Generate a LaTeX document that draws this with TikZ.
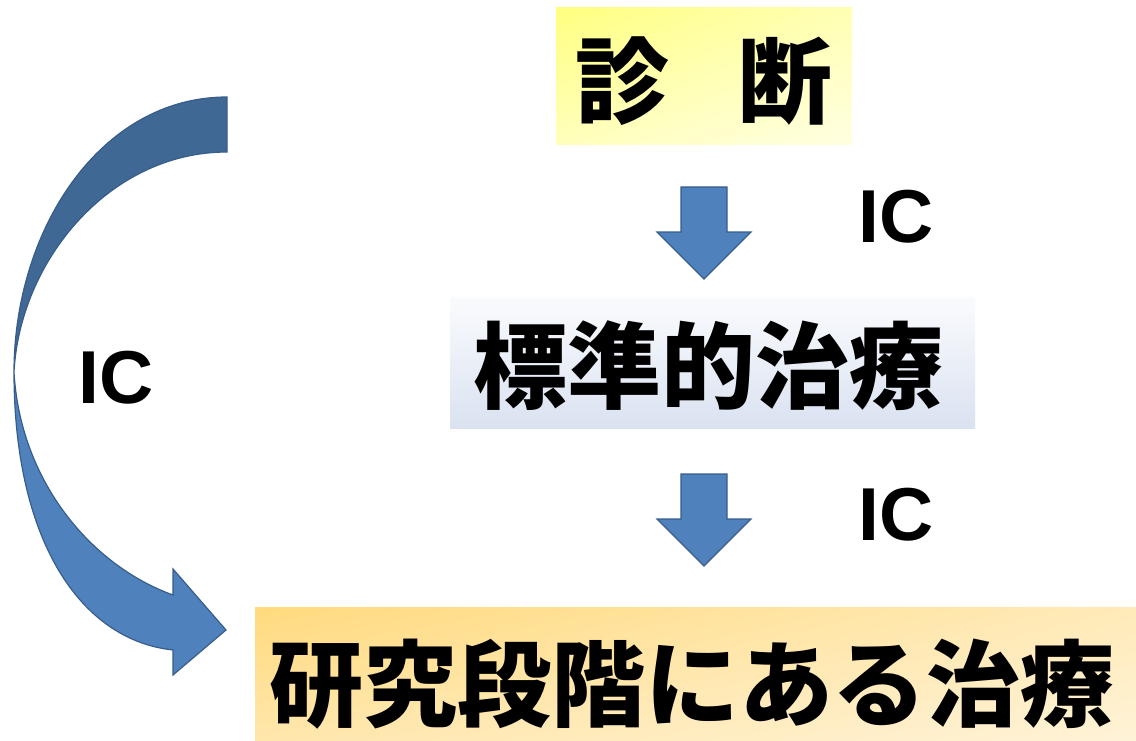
\documentclass[tikz,border=0pt]{standalone}
\usepackage{fontspec}
\usetikzlibrary{shadings}
\setmainfont{Liberation Sans}
\newfontfamily\jp{Noto Sans CJK JP}
\definecolor{arrowfill}{HTML}{4F81BD}
\definecolor{arrowdark}{HTML}{3F6895}
\definecolor{arrowline}{HTML}{385D8A}
\definecolor{yA}{HTML}{FFFF80}
\definecolor{yB}{HTML}{FFFFB4}
\definecolor{yC}{HTML}{FFFFBC}
\definecolor{yD}{HTML}{FFFFE2}
\definecolor{bTop}{HTML}{FAFBFD}
\definecolor{bMid}{HTML}{C4D2EB}
\definecolor{bBot}{HTML}{DAE2F1}
\definecolor{oA}{HTML}{FFDA7E}
\definecolor{oB}{HTML}{FFEAB8}
\definecolor{oC}{HTML}{FFE6AC}
\definecolor{oD}{HTML}{FFF3D8}
\tikzset{
  boxtext/.style={inner sep=0pt, font=\jp\bfseries\fontsize{94}{100}\selectfont},
  iclabel/.style={inner sep=0pt, font=\bfseries\fontsize{75}{80}\selectfont},
  blockarrow/.style={fill=arrowfill, draw=arrowline, line width=1.2pt, line join=miter},
  bandline/.style={draw=arrowline, line width=1.2pt},
}
\begin{document}
\begin{tikzpicture}[x=1pt,y=-1pt]
\useasboundingbox (0,0) rectangle (1136,741);
% boxes
\shade[upper left=yA, upper right=yB, lower left=yC, lower right=yD] (556,8) rectangle (852,145);
\shade[top color=bTop, middle color=bMid, bottom color=bBot] (450,297) rectangle (975,428);
\shade[upper left=oA, upper right=oB, lower left=oC, lower right=oD] (255,607) rectangle (1136,741);
% texts
\node[boxtext] (diagT) at (704,81) {診\hspace{70pt}断};
\node[boxtext] (stdT) at (708,366) {標準的治療};
\node[boxtext] (resT) at (692,684) {研究段階にある治療};
\node[iclabel] (ic1) at (896,217) {IC};
\node[iclabel] (ic2) at (896,515) {IC};
\node[iclabel] (ic3) at (116,378) {IC};
% down block arrows
\draw[blockarrow] (681,187) -- (727,187) -- (727,232) -- (751,232) -- (704,279) -- (657,232) -- (681,232) -- cycle;
\draw[blockarrow] (681,474) -- (727,474) -- (727,519) -- (751,519) -- (704,566) -- (657,519) -- (681,519) -- cycle;
% curved arrow: lower band with head
\path[fill=arrowfill, bandline, line join=miter]
  (14,372) .. controls (14,540) and (80,640) .. (173,650)
  -- (173,675) -- (226,630) -- (173,569) -- (173,595)
  .. controls (90,565) and (20,480) .. (14,372) -- cycle;
% upper band (darker, back side)
\path[fill=arrowdark, bandline]
  (227,97) .. controls (100,97) and (14,230) .. (14,372)
  .. controls (20,260) and (110,152) .. (227,152) -- cycle;
\end{tikzpicture}
\end{document}
